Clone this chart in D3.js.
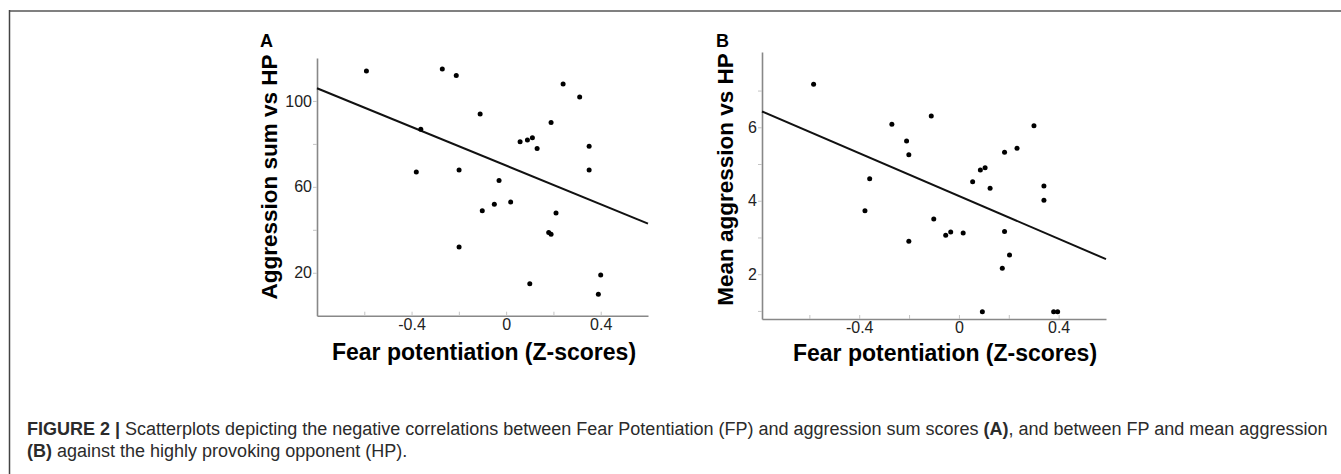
<!DOCTYPE html>
<html>
<head>
<meta charset="utf-8">
<script src="https://cdn.jsdelivr.net/npm/d3@7"></script>
<style>
  body { margin: 0; background: #fff; }
  svg { display: block; font-family: "Liberation Sans", Arial, sans-serif; }
</style>
</head>
<body>
<svg id="chart" width="1341" height="474"></svg>
<script>
// fear potentiation (z) vs aggression sum, panel A
fpA = [-0.591, -0.27, -0.211, 0.241, 0.311, -0.11, 0.19, -0.361, 0.059, 0.09, 0.111, 0.131, 0.351,
  -0.38, -0.199, 0.351, -0.03, -0.101, -0.05, 0.019, 0.211, 0.18, 0.19, -0.199, 0.4, 0.1, 0.39];
aggSum = [113.9, 114.9, 111.9, 107.9, 101.8, 93.9, 90.0, 86.8, 81.0, 81.8, 82.9, 77.9, 78.9,
  66.9, 67.8, 67.8, 63.0, 48.9, 51.9, 52.9, 47.8, 38.8, 37.9, 32.0, 18.9, 14.9, 10.0];

// panel B: fear potentiation vs mean aggression
fpB = [-0.583, -0.111, -0.269, 0.301, -0.21, -0.201, 0.183, 0.233, 0.086, 0.105, 0.055, 0.125,
  -0.358, 0.341, 0.341, -0.377, -0.101, -0.201, -0.053, -0.033, 0.017, 0.183, 0.203, 0.174,
  0.094, 0.38, 0.396];
aggMean = [7.17, 6.31, 6.08, 6.04, 5.63, 5.25, 5.32, 5.43, 4.84, 4.9, 4.52, 4.34,
  4.6, 4.4, 4.01, 3.73, 3.5, 2.9, 3.06, 3.15, 3.12, 3.16, 2.52, 2.16,
  0.98, 0.98, 0.98];

// fitted lines
fitAx = [-0.8, 0.6];
fitAy = [105.9, 42.9];
fitBx = [-0.79, 0.59];
fitBy = [6.43, 2.41];

xTicks = [-0.6, -0.4, -0.2, 0, 0.2, 0.4];
xLabels = [-0.4, 0, 0.4];
yTicksA = [20, 40, 60, 80, 100];
yLabelsA = [20, 60, 100];
yTicksB = [1, 2, 3, 4, 5, 6, 7];
yLabelsB = [2, 4, 6];

let svg = d3.select("#chart");

// frame
svg.append("line").attr("x1", 9).attr("x2", 1341).attr("y1", 11).attr("y2", 11)
  .attr("stroke", "#808080").attr("stroke-width", 2);
svg.append("line").attr("x1", 9.5).attr("x2", 9.5).attr("y1", 10).attr("y2", 474)
  .attr("stroke", "#444").attr("stroke-width", 1.5);

function panel(opt) {
  let x = d3.scaleLinear().domain(opt.xDomain).range([opt.left, opt.right]);
  let y = d3.scaleLinear().domain(opt.yDomain).range([opt.bottom, opt.top]);

  let fmtX = (d) => (xLabels.indexOf(d) >= 0 ? (d === 0 ? "0" : d.toFixed(1)) : "");
  let fmtY = (d) => (opt.yLabels.indexOf(d) >= 0 ? String(d) : "");

  let xAxis = d3.axisBottom(x).tickValues(xTicks).tickFormat(fmtX)
    .tickSizeInner(-4).tickSizeOuter(0).tickPadding(opt.xPad);
  let yAxis = d3.axisLeft(y).tickValues(opt.yTicks).tickFormat(fmtY)
    .tickSizeInner(4).tickSizeOuter(0).tickPadding(1);

  let gx = svg.append("g").attr("transform", "translate(0," + opt.bottom + ")").call(xAxis);
  let gy = svg.append("g").attr("transform", "translate(" + opt.left + ",0)").call(yAxis);

  [gx, gy].forEach((g) => {
    g.attr("font-size", 16).attr("font-family", "'Liberation Sans', Arial, sans-serif");
    g.select(".domain").attr("stroke", "#888").attr("stroke-width", 1.6);
    g.selectAll(".tick line").attr("stroke", "#c4c4c4").attr("stroke-width", 1);
    g.selectAll(".tick text").attr("fill", "#222");
  });

  // regression line
  let pts = opt.fitX.map((v, i) => [v, opt.fitY[i]]);
  svg.append("path").datum(pts)
    .attr("fill", "none").attr("stroke", "#111").attr("stroke-width", 2)
    .attr("d", d3.line().x((d) => x(d[0])).y((d) => y(d[1])));

  // dots
  svg.append("g").selectAll("circle")
    .data(opt.xs.map((v, i) => [v, opt.ys[i]]))
    .enter().append("circle")
    .attr("cx", (d) => x(d[0])).attr("cy", (d) => y(d[1]))
    .attr("r", 2.5).attr("fill", "#000");

  // titles
  svg.append("text").attr("x", opt.xTitleX).attr("y", opt.xTitleY)
    .attr("text-anchor", "middle").attr("font-weight", "bold").attr("font-size", 23)
    .attr("fill", "#000").text("Fear potentiation (Z-scores)");
  svg.append("text")
    .attr("transform", "translate(" + opt.yTitleX + "," + opt.yTitleY + ") rotate(-90)")
    .attr("text-anchor", "middle").attr("font-weight", "bold").attr("font-size", 22.5)
    .attr("fill", "#000").text(opt.yTitle);
  svg.append("text").attr("x", opt.labelX).attr("y", 47)
    .attr("font-weight", "bold").attr("font-size", 18).attr("fill", "#000").text(opt.label);
}

panel({
  xs: fpA, ys: aggSum, fitX: fitAx, fitY: fitAy,
  xDomain: [-0.8, 0.6], yDomain: [0, 120],
  left: 317, right: 648, top: 58, bottom: 315.7, xPad: 3,
  yTicks: yTicksA, yLabels: yLabelsA,
  xTitleX: 484, xTitleY: 360, yTitleX: 277, yTitleY: 177,
  yTitle: "Aggression sum vs HP", label: "A", labelX: 260
});

panel({
  xs: fpB, ys: aggMean, fitX: fitBx, fitY: fitBy,
  xDomain: [-0.79, 0.59], yDomain: [0.78, 8.05],
  left: 762, right: 1106, top: 52, bottom: 319, xPad: 3,
  yTicks: yTicksB, yLabels: yLabelsB,
  xTitleX: 945, xTitleY: 361, yTitleX: 733, yTitleY: 179.5,
  yTitle: "Mean aggression vs HP", label: "B", labelX: 716
});

// caption
let cap1 = svg.append("text").attr("x", 27).attr("y", 435).attr("font-size", 18).attr("fill", "#2b2b2b");
cap1.append("tspan").attr("font-weight", "bold").text("FIGURE 2 | ");
cap1.append("tspan").text("Scatterplots depicting the negative correlations between Fear Potentiation (FP) and aggression sum scores ");
cap1.append("tspan").attr("font-weight", "bold").text("(A)");
cap1.append("tspan").text(", and between FP and mean aggression");

let cap2 = svg.append("text").attr("x", 27).attr("y", 457).attr("font-size", 18).attr("fill", "#2b2b2b");
cap2.append("tspan").attr("font-weight", "bold").text("(B)");
cap2.append("tspan").text(" against the highly provoking opponent (HP).");
</script>
</body>
</html>
